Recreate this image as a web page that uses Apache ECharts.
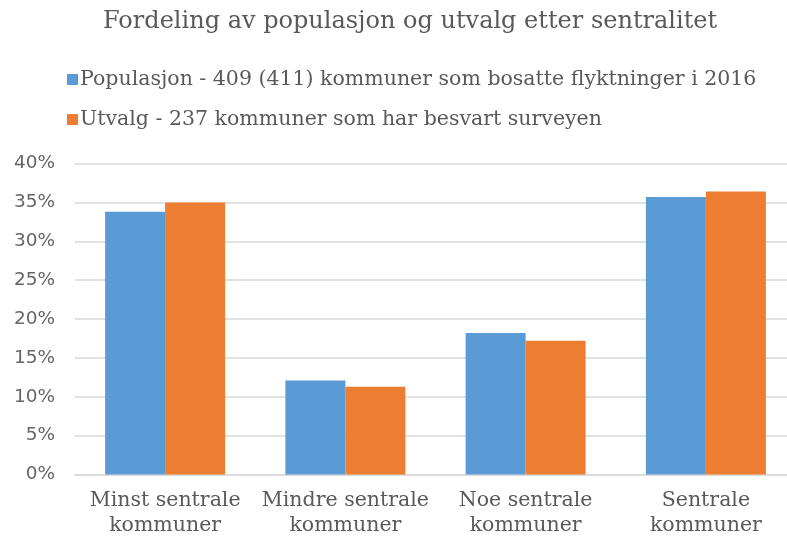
<!DOCTYPE html>
<html>
<head>
<meta charset="utf-8">
<script src="https://cdn.jsdelivr.net/npm/echarts@6/dist/echarts.min.js"></script>
<style>
html, body { margin: 0; padding: 0; background: #fff; }
#container { width: 787px; height: 537px; }
</style>
</head>
<body>
<div id="container"></div>
<script>
var categories = ["Minst sentrale\nkommuner", "Mindre sentrale\nkommuner", "Noe sentrale\nkommuner", "Sentrale\nkommuner"];
var populasjon = [33.8, 12.1, 18.2, 35.7];
var utvalg = [35.0, 11.3, 17.2, 36.4];
var seriesNames = ["Populasjon - 409 (411) kommuner som bosatte flyktninger i 2016", "Utvalg - 237 kommuner som har besvart surveyen"];

var myChart = echarts.init(document.getElementById("container"));
var serif = "DejaVu Serif";
var textColor = "#595959";

myChart.setOption({
    animation: false,
    color: ["#5B9BD5", "#ED7D31"],
    title: {
        text: "Fordeling av populasjon og utvalg etter sentralitet",
        left: 98,
        top: 5,
        textStyle: { fontFamily: serif, fontSize: 24, fontWeight: "normal", color: textColor }
    },
    legend: {
        orient: "vertical",
        left: 62,
        top: 64,
        icon: "rect",
        itemWidth: 11,
        itemHeight: 11,
        itemGap: 19,
        textStyle: { fontFamily: serif, fontSize: 20.5, color: textColor, padding: [0, 0, 0, -3] },
        data: seriesNames
    },
    grid: { left: 75, top: 163.5, width: 721, height: 311, outerBoundsMode: "none" },
    xAxis: {
        type: "category",
        data: categories,
        axisTick: { show: false },
        axisLine: { lineStyle: { color: "#d9d9d9", width: 1.5 } },
        axisLabel: { interval: 0, fontFamily: serif, fontSize: 20.5, color: textColor, margin: 14, lineHeight: 25 }
    },
    yAxis: {
        type: "value",
        min: 0,
        max: 40,
        interval: 5,
        axisLabel: {
            fontFamily: "DejaVu Sans",
            fontSize: 18.5,
            color: "#666666",
            margin: 20,
            formatter: function (val) {
                return val + "%";
            }
        },
        splitLine: { lineStyle: { color: "#d9d9d9", width: 1.5 } }
    },
    series: [
        { name: seriesNames[0], type: "bar", data: populasjon, barWidth: 60, barGap: "0%" },
        { name: seriesNames[1], type: "bar", data: utvalg, barWidth: 60, barGap: "0%" }
    ]
});
</script>
</body>
</html>
